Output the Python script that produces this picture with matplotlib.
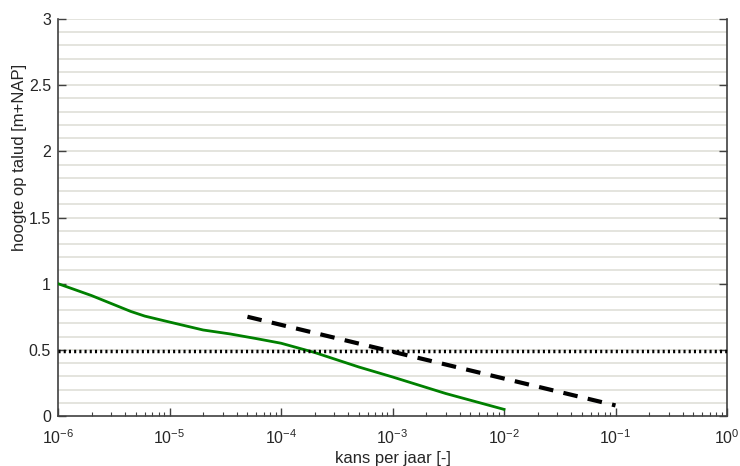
import matplotlib
matplotlib.use("Agg")
import matplotlib.pyplot as plt
import numpy as np
from matplotlib.ticker import FixedLocator, NullFormatter, FixedFormatter

# Data
green_x = [1e-6, 2e-6, 3e-6, 4.5e-6, 6e-6, 1e-5, 2e-5, 3.5e-5, 6e-5, 1e-4, 2e-4, 5e-4, 1e-3, 3e-3, 1e-2]
green_y = [1.00, 0.91, 0.85, 0.79, 0.755, 0.71, 0.65, 0.62, 0.585, 0.55, 0.48, 0.37, 0.295, 0.17, 0.05]
dash_x = [5e-5, 1e-1]
dash_y = [0.75, 0.08]
ref_level = 0.49
xlim = (1e-6, 1e0)
ylim = (0, 3)
yticks = [0, 0.5, 1, 1.5, 2, 2.5, 3]
ytick_labels = ['0', '0.5', '1', '1.5', '2', '2.5', '3']
xtick_exps = [-6, -5, -4, -3, -2, -1, 0]

plt.rcParams['font.family'] = ['Liberation Sans', 'DejaVu Sans']
plt.rcParams['mathtext.fontset'] = 'custom'
plt.rcParams['mathtext.rm'] = 'Liberation Sans'
plt.rcParams['mathtext.it'] = 'Liberation Sans'
plt.rcParams['mathtext.default'] = 'regular'

fig = plt.figure(figsize=(7.4, 4.66), dpi=100)
ax = fig.add_axes([58/740, 1-416/466, (727-58)/740, (416-19)/466])

ax.set_xscale('log')
ax.set_xlim(*xlim)
ax.set_ylim(*ylim)

# horizontal grid every 0.1
for g in np.arange(0.1, 3.0001, 0.1):
    ax.axhline(g, color='#dcdcd4', lw=1.1, zorder=0)

ax.plot(green_x, green_y, color='#008000', lw=2, zorder=3)
ax.plot(dash_x, dash_y, color='black', lw=3, ls=(0, (3.5, 2.5)), zorder=3)
ax.axhline(ref_level, color='black', lw=2.5, ls=(0, (0.6, 0.9)), zorder=3)

ax.set_yticks(yticks)
ax.yaxis.set_major_formatter(FixedFormatter(ytick_labels))
xmaj = [10.0 ** e for e in xtick_exps]
ax.xaxis.set_major_locator(FixedLocator(xmaj))
ax.xaxis.set_major_formatter(FixedFormatter([r'$10^{%d}$' % e for e in xtick_exps]))
xmin = [m * 10.0 ** e for e in xtick_exps[:-1] for m in range(2, 10)]
ax.xaxis.set_minor_locator(FixedLocator(xmin))
ax.xaxis.set_minor_formatter(NullFormatter())

ax.tick_params(axis='both', which='both', direction='in', colors='#404040',
               labelcolor='#262626', labelsize=11.5)
ax.tick_params(axis='y', which='major', right=True, length=6, width=1, pad=5)
ax.tick_params(axis='x', which='major', length=6, width=1, pad=9)
ax.tick_params(axis='x', which='minor', length=3, width=0.8)

for s in ['left', 'right', 'bottom']:
    ax.spines[s].set_color('#404040')
    ax.spines[s].set_linewidth(1.2)
ax.spines['top'].set_visible(False)

ax.set_xlabel('kans per jaar [-]', fontsize=12, color='#262626', labelpad=3)
ax.set_ylabel('hoogte op talud [m+NAP]', fontsize=12, color='#262626', labelpad=1.5)
ax.yaxis.label.set_y(0.652)

fig.savefig('out.png', dpi=100)
